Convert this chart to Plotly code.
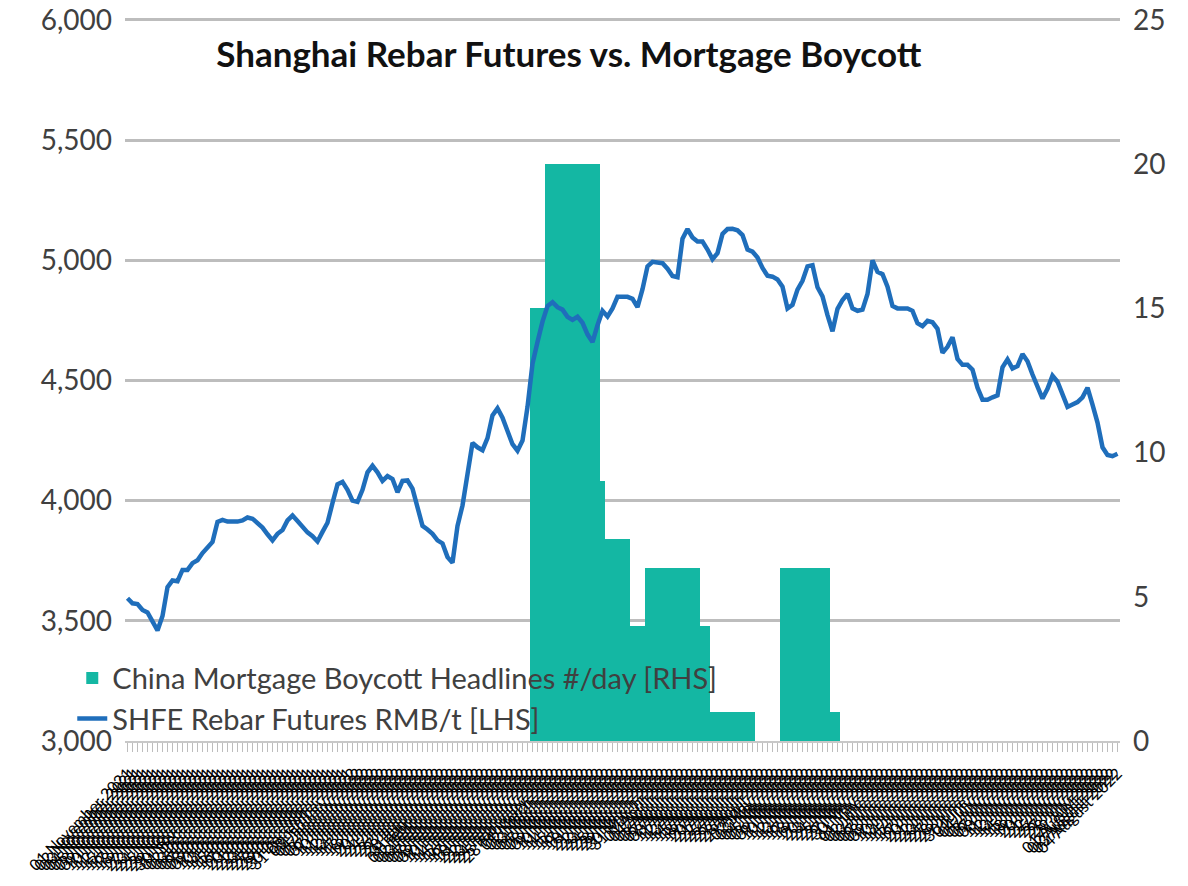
import plotly.graph_objects as go
import pandas as pd

# ---- data ----
rebar_rmb_t = [
    3594, 3573, 3570, 3545, 3535, 3500, 3460, 3520, 3640, 3668,
    3665, 3712, 3712, 3740, 3752, 3782, 3805, 3828, 3912, 3920,
    3913, 3913, 3913, 3918, 3930, 3925, 3905, 3888, 3860, 3835,
    3862, 3878, 3918, 3938, 3915, 3888, 3868, 3852, 3830, 3870,
    3908, 3990, 4068, 4078, 4045, 4000, 3995, 4045, 4118, 4145,
    4118, 4082, 4102, 4090, 4035, 4082, 4084, 4050, 3980, 3895,
    3880, 3862, 3835, 3822, 3765, 3742, 3895, 3980, 4110, 4240,
    4222, 4210, 4260, 4355, 4384, 4345, 4290, 4235, 4208, 4250,
    4390, 4570, 4660, 4745, 4810, 4826, 4805, 4795, 4765, 4752,
    4765, 4740, 4692, 4660, 4730, 4790, 4766, 4800, 4848, 4850,
    4848, 4840, 4805, 4880, 4975, 4994, 4990, 4988, 4965, 4935,
    4930, 5090, 5130, 5095, 5078, 5078, 5045, 5005, 5030, 5110,
    5130, 5131, 5125, 5105, 5045, 5036, 5012, 4968, 4936, 4932,
    4920, 4890, 4800, 4815, 4878, 4915, 4975, 4980, 4888, 4850,
    4772, 4705, 4798, 4835, 4860, 4800, 4790, 4795, 4860, 5000,
    4952, 4942, 4890, 4810, 4800, 4800, 4800, 4790, 4738, 4726,
    4748, 4742, 4715, 4615, 4640, 4680, 4590, 4565, 4565, 4545,
    4470, 4420, 4420, 4430, 4438, 4555, 4588, 4550, 4560, 4610,
    4580, 4525, 4475, 4425, 4465, 4520, 4495, 4440, 4390, 4400,
    4410, 4430, 4470, 4400, 4325, 4222, 4190, 4185, 4195,
]

boycott_headlines = (
    [0] * 81
    + [15, 15, 15]
    + [20] * 11
    + [9]
    + [7] * 5
    + [4] * 3
    + [6] * 11
    + [4, 4]
    + [1] * 9
    + [0] * 5
    + [6] * 10
    + [1, 1]
    + [0] * 56
)

date_labels = [d.strftime("%d %B %Y") for d in
               pd.bdate_range("2021-11-01", periods=len(rebar_rmb_t))]

left_ticks = [3000, 3500, 4000, 4500, 5000, 5500, 6000]
right_ticks = [0, 5, 10, 15, 20, 25]

title_text = "Shanghai Rebar Futures vs. Mortgage Boycott"
bar_name = "China Mortgage Boycott Headlines #/day [RHS]"
line_name = "SHFE Rebar Futures RMB/t [LHS]"

# ---- figure ----
fig = go.Figure()
fig.add_trace(go.Bar(
    x=date_labels, y=boycott_headlines, name=bar_name,
    marker=dict(color="#14B7A3", line=dict(width=0)),
    yaxis="y",
))
fig.add_trace(go.Scatter(
    x=date_labels, y=rebar_rmb_t, name=line_name, mode="lines",
    line=dict(color="#1F6EBB", width=4.5),
    yaxis="y2",
))

tick_font = dict(family="Lato, Open Sans, sans-serif", size=28, color="#404040")

fig.update_layout(
    width=1188, height=886,
    margin=dict(l=117, r=76, t=8, b=153),
    paper_bgcolor="white", plot_bgcolor="white",
    bargap=0,
    showlegend=True,
    title=dict(text=f"<b>{title_text}</b>", x=0.472, xref="container",
               xanchor="center", y=1 - 47 / 886, yref="container",
               yanchor="middle",
               font=dict(family="Lato, Open Sans, sans-serif", size=35,
                         color="#111111")),
    legend=dict(x=-0.053, y=0.122, xanchor="left", yanchor="top",
                bgcolor="rgba(0,0,0,0)", traceorder="normal",
                font=dict(family="Lato, Open Sans, sans-serif", size=29,
                          color="#404040"),
                tracegroupgap=0, itemwidth=30),
    xaxis=dict(
        type="category", tickmode="linear", tick0=0, dtick=1,
        tickangle=-45, automargin=False,
        tickfont=dict(family="Lato, sans-serif", size=16, color="#000000"),
        ticks="outside", ticklen=9, tickwidth=1, tickcolor="#BDBDBD",
        showline=True, linecolor="#C8C8C8", linewidth=2,
        showgrid=False, ticklabelstandoff=6,
    ),
    yaxis=dict(
        side="right", range=[0, 25.139], tickvals=right_ticks,
        showgrid=False, zeroline=False, tickfont=tick_font,
        ticklabelstandoff=12, automargin=False, ticklabeloverflow="allow",
    ),
    yaxis2=dict(
        overlaying="y", side="left", range=[3000, 6016.6],
        tickvals=left_ticks, tickformat=",",
        showgrid=True, gridcolor="#BDBDBD", gridwidth=2.5,
        zeroline=False, tickfont=tick_font, ticklabelstandoff=12,
        automargin=False, ticklabeloverflow="allow",
    ),
)

fig.write_html("out.html")
